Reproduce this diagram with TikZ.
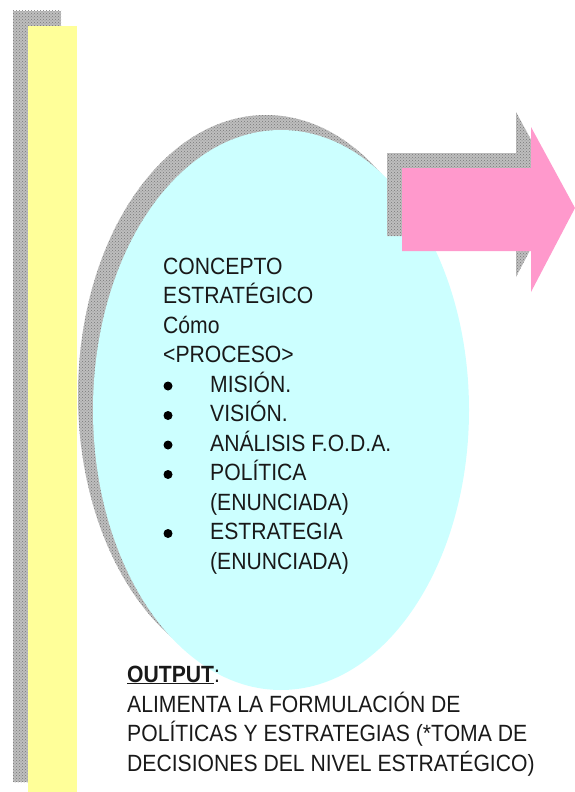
\documentclass[tikz,border=0pt]{standalone}
\usepackage{fontspec}
\setmainfont{Liberation Sans}[FakeStretch=0.9]
\usetikzlibrary{shapes.geometric,patterns}
\definecolor{baryellow}{RGB}{255,255,153}
\definecolor{ellcyan}{RGB}{204,255,255}
\definecolor{arrpink}{RGB}{255,153,204}
\definecolor{shadowgray}{RGB}{190,190,190}
\definecolor{shadowdot}{RGB}{120,120,120}
\tikzset{
  shade fill/.style={fill=shadowgray, draw=none, postaction={pattern=crosshatch dots, pattern color=shadowdot}},
  txt/.style={anchor=base west, inner sep=0pt, font=\fontsize{23.5}{29.5}\selectfont, text=black!90},
  bul/.style={circle, fill=black, inner sep=0pt, minimum size=9pt}
}
\begin{document}
\begin{tikzpicture}[x=1pt,y=-1pt]
\useasboundingbox (0,0) rectangle (575,792);
% yellow bar with shadow
\path[shade fill] (13,11) rectangle (61,782);
\fill[baryellow] (28,26) rectangle (77,792);
% ellipse with shadow
\path[shade fill] (266,395) ellipse [x radius=188, y radius=280];
\node[ellipse, draw=none, fill=ellcyan, minimum width=376pt, minimum height=560pt, inner sep=0pt] (ell) at (281,410) {};
% arrow with shadow
\path[shade fill] (387,153) -- (516,153) -- (516,112) -- (560,193) -- (516,277) -- (516,236) -- (387,236) -- cycle;
\fill[arrpink] (402,168) -- (531,168) -- (531,127) -- (575,208) -- (531,292) -- (531,251) -- (402,251) -- cycle;
% text in ellipse
\node[txt] (t1) at (163,274) {CONCEPTO};
\node[txt] (t2) at (163,303.5) {ESTRATÉGICO};
\node[txt] (t3) at (163,333) {Cómo};
\node[txt] (t4) at (163,362.5) {<PROCESO>};
\node[bul] (b1) at (168,386) {};
\node[txt] (l1) at (210,392) {MISIÓN.};
\node[bul] (b2) at (168,415.5) {};
\node[txt] (l2) at (210,421.5) {VISIÓN.};
\node[bul] (b3) at (168,445) {};
\node[txt] (l3) at (210,451) {ANÁLISIS F.O.D.A.};
\node[bul] (b4) at (168,474.5) {};
\node[txt] (l4) at (210,480.5) {POLÍTICA};
\node[txt] (l4b) at (210,510) {(ENUNCIADA)};
\node[bul] (b5) at (168,533.5) {};
\node[txt] (l5) at (210,539.5) {ESTRATEGIA};
\node[txt] (l5b) at (210,569) {(ENUNCIADA)};
% output text
\node[txt] (o1) at (127,682) {\underline{\textbf{OUTPUT}}:};
\node[txt] (o2) at (127,712) {ALIMENTA LA FORMULACIÓN DE};
\node[txt] (o3) at (127,741.5) {POLÍTICAS Y ESTRATEGIAS (*TOMA DE};
\node[txt] (o4) at (127,771) {DECISIONES DEL NIVEL ESTRATÉGICO)};
\end{tikzpicture}
\end{document}
